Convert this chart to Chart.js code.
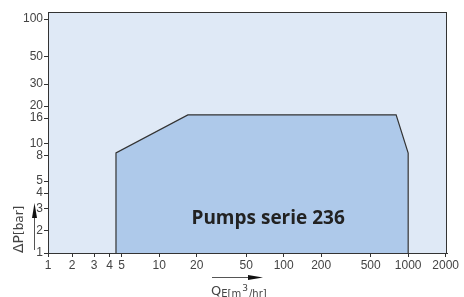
<!DOCTYPE html>
<html>
<head>
<meta charset="utf-8">
<script src="https://cdn.jsdelivr.net/npm/chart.js@4/dist/chart.umd.min.js"></script>
<style>
  html, body { margin: 0; padding: 0; background: #fff; }
  #wrap { width: 464px; height: 297px; }
</style>
</head>
<body>
<div id="wrap"><canvas id="myChart" width="464" height="297"></canvas></div>
<script>
// operating range of the pump serie
const flowRate = [4.5, 4.5, 17, 800, 1000, 1000];
const pressure = [1, 8.4, 17, 17, 8.4, 1];

const xTickValues = [1, 2, 3, 4, 5, 10, 20, 50, 100, 200, 500, 1000, 2000];
const xTickLabels = ["1", "2", "3", "4", "5", "10", "20", "50", "100", "200", "500", "1000", "2000"];
const yTickValues = [1, 2, 3, 4, 5, 8, 10, 16, 20, 30, 50, 100];
const yTickLabels = ["1", "2", "3", "4", "5", "8", "10", "16", "20", "30", "50", "100"];

const areaLabel = "Pumps serie 236";
const areaLabelAt = { x: 75, y: 2.5 };

const plotBg = "#dfe9f6";
const areaFill = "#aec9ea";
const lineCol = "#333";
const textCol = "#444";

const tickFont = { family: "'Liberation Sans', Arial, sans-serif", size: 12 };

const fixedTicks = (values) => (scale) => {
    scale.ticks = values.map((v) => ({ value: Math.max(v, scale.min) }));
};

const drawArrow = (ctx, x1, y1, x2, y2, head, half) => {
    const ang = Math.atan2(y2 - y1, x2 - x1);
    const bx = x2 - Math.cos(ang) * head, by = y2 - Math.sin(ang) * head;
    ctx.beginPath();
    ctx.moveTo(x1, y1);
    ctx.lineTo(bx, by);
    ctx.stroke();
    ctx.beginPath();
    ctx.moveTo(x2, y2);
    ctx.lineTo(bx - Math.sin(ang) * half, by + Math.cos(ang) * half);
    ctx.lineTo(bx + Math.sin(ang) * half, by - Math.cos(ang) * half);
    ctx.closePath();
    ctx.fill();
};

const decor = {
    id: "decor",
    beforeDraw(chart) {
        const { ctx, chartArea: a } = chart;
        ctx.save();
        ctx.fillStyle = plotBg;
        ctx.fillRect(a.left, a.top, a.right - a.left, a.bottom - a.top);
        ctx.restore();
    },
    afterDatasetsDraw(chart) {
        const { ctx, chartArea: a, scales } = chart;
        ctx.save();
        ctx.font = "bold 19px 'Open Sans', sans-serif";
        ctx.fillStyle = "#222";
        ctx.textAlign = "center";
        ctx.textBaseline = "middle";
        ctx.fillText(areaLabel, scales.x.getPixelForValue(areaLabelAt.x), scales.y.getPixelForValue(areaLabelAt.y));
        ctx.strokeStyle = lineCol;
        ctx.lineWidth = 1;
        ctx.strokeRect(a.left + 0.5, a.top + 0.5, a.right - a.left - 1, a.bottom - a.top);
        ctx.restore();
    },
    afterDraw(chart) {
        const { ctx } = chart;
        ctx.save();
        ctx.fillStyle = textCol;
        ctx.strokeStyle = "#555";
        ctx.lineWidth = 1;

        // y title: ΔP[bar], rotated
        ctx.save();
        ctx.translate(23, 253);
        ctx.rotate(-Math.PI / 2);
        ctx.textBaseline = "alphabetic";
        ctx.font = "14px 'DejaVu Sans', sans-serif";
        ctx.fillText("ΔP", 0, 0);
        const w1 = ctx.measureText("ΔP").width;
        ctx.font = "12px 'DejaVu Sans', sans-serif";
        ctx.fillText("[bar]", w1, 0);
        ctx.restore();
        ctx.fillStyle = "#111";
        drawArrow(ctx, 34.5, 250, 34.5, 203, 15, 2.5);

        // x title: Q E[m3/hr]
        ctx.fillStyle = textCol;
        ctx.textBaseline = "alphabetic";
        ctx.font = "13px 'DejaVu Sans', sans-serif";
        ctx.fillText("Q", 211, 295);
        let x = 211 + ctx.measureText("Q").width;
        ctx.font = "10px 'DejaVu Sans', sans-serif";
        ctx.fillText("E[m", x, 297);
        x += ctx.measureText("E[m").width + 1;
        ctx.font = "9px 'DejaVu Sans', sans-serif";
        ctx.fillText("3", x, 291);
        x += ctx.measureText("3").width + 1;
        ctx.font = "10px 'DejaVu Sans', sans-serif";
        ctx.fillText("/hr]", x, 297);
        ctx.fillStyle = "#111";
        drawArrow(ctx, 212, 277.5, 263, 277.5, 15, 2.5);
        ctx.restore();
    }
};

const info = {
    datasets: [
        {
            data: flowRate.map((q, i) => ({ x: q, y: pressure[i] })),
            showLine: true,
            fill: "start",
            backgroundColor: areaFill,
            borderColor: lineCol,
            borderWidth: 1.2,
            pointRadius: 0,
            tension: 0
        }
    ]
};

const options = {
    responsive: false,
    animation: false,
    layout: { padding: { top: 12, right: 17, left: 0, bottom: 0 } },
    scales: {
        x: {
            type: "logarithmic",
            min: 1.28,
            max: 2050,
            bounds: "data",
            afterBuildTicks: fixedTicks(xTickValues),
            afterFit: (s) => { s.height = 44; },
            ticks: {
                autoSkip: false,
                maxRotation: 0,
                padding: 1,
                color: textCol,
                font: tickFont,
                callback: (v, i) => xTickLabels[i]
            },
            grid: { drawOnChartArea: false, drawTicks: true, tickLength: 4, color: lineCol },
            border: { display: true, color: lineCol }
        },
        y: {
            type: "logarithmic",
            min: 1.32,
            max: 114,
            bounds: "data",
            afterBuildTicks: fixedTicks(yTickValues),
            afterFit: (s) => { s.width = 48; },
            ticks: {
                autoSkip: false,
                padding: 1,
                color: textCol,
                font: tickFont,
                callback: (v, i) => yTickLabels[i]
            },
            grid: { drawOnChartArea: false, drawTicks: true, tickLength: 4, color: lineCol },
            border: { display: true, color: lineCol }
        }
    },
    plugins: {
        legend: { display: false },
        tooltip: { enabled: false }
    }
};

const config = {
    type: "scatter",
    data: info,
    options,
    plugins: [decor]
};

const myChart = new Chart(document.getElementById("myChart"), config);
</script>
</body>
</html>
